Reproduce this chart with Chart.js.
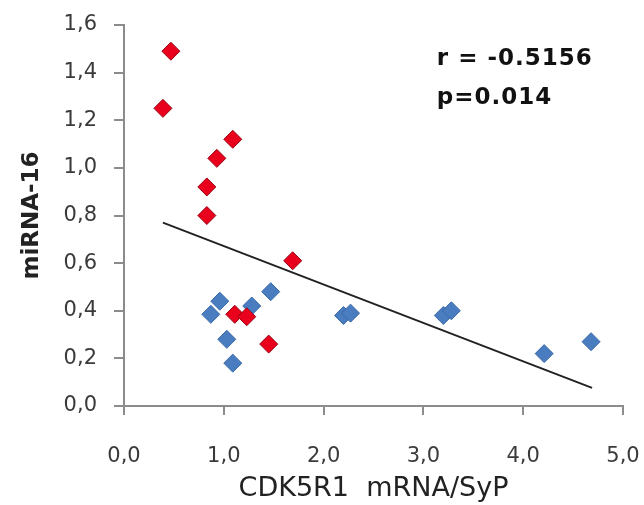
<!DOCTYPE html>
<html>
<head>
<meta charset="utf-8">
<script src="https://cdn.jsdelivr.net/npm/chart.js@4"></script>
<style>
  html, body { margin: 0; padding: 0; background: #fff; }
  #wrap { width: 644px; height: 505px; }
</style>
</head>
<body>
<div id="wrap"><canvas id="scatterChart" width="644" height="505"></canvas></div>
<script>
// Données
const redX = [0.47, 0.39, 1.09, 0.93, 0.83, 0.83, 1.69, 1.11, 1.23, 1.45];
const redY = [1.49, 1.25, 1.12, 1.04, 0.92, 0.80, 0.61, 0.385, 0.375, 0.26];

const blueX = [0.96, 0.87, 1.28, 1.47, 1.03, 1.09, 2.20, 2.27, 3.20, 3.28, 4.21, 4.68];
const blueY = [0.44, 0.385, 0.42, 0.48, 0.28, 0.18, 0.38, 0.39, 0.38, 0.40, 0.22, 0.27];

// droite de régression (extrémités)
const trendX = [0.39, 4.69];
const trendY = [0.77, 0.076];

const xTicks = [0, 1, 2, 3, 4, 5];
const yTicks = [0, 0.2, 0.4, 0.6, 0.8, 1.0, 1.2, 1.4, 1.6];

const statsLines = ['r = -0.5156', 'p=0.014'];

const colors = {
    red: '#e8001c',
    redBorder: '#9a0012',
    blue: '#4a7dc0',
    blueBorder: '#3a69a8',
    axis: '#8c8c8c',
    text: '#3a3a3a'
};

function toPoints(xs, ys) {
    return xs.map((x, i) => ({ x: x, y: ys[i] }));
}

function fmt(v) {
    return v.toFixed(1).replace('.', ',');
}

// texte r / p dans le coin haut droit
const statsText = {
    id: 'statsText',
    afterDraw(chart) {
        const { ctx, chartArea } = chart;
        ctx.save();
        ctx.fillStyle = '#111';
        ctx.font = 'bold 23px "DejaVu Sans", sans-serif';
        ctx.letterSpacing = '1px';
        ctx.textAlign = 'left';
        ctx.textBaseline = 'middle';
        const x0 = chartArea.left + chartArea.width * 0.627;
        const y0 = chartArea.top + chartArea.height * 0.089;
        statsLines.forEach((line, i) => {
            ctx.fillText(line, x0, y0 + i * 39);
        });
        ctx.restore();
    }
};

const ctx = document.getElementById('scatterChart');

new Chart(ctx, {
    type: 'scatter',
    data: {
        datasets: [
            {
                label: 'trend',
                type: 'line',
                data: toPoints(trendX, trendY),
                borderColor: '#222',
                borderWidth: 2,
                pointRadius: 0,
                fill: false,
                order: 3
            },
            {
                label: 'blue',
                data: toPoints(blueX, blueY),
                pointStyle: 'rectRot',
                pointRadius: 9,
                backgroundColor: colors.blue,
                borderColor: colors.blueBorder,
                borderWidth: 1,
                order: 2
            },
            {
                label: 'red',
                data: toPoints(redX, redY),
                pointStyle: 'rectRot',
                pointRadius: 9,
                backgroundColor: colors.red,
                borderColor: colors.redBorder,
                borderWidth: 1,
                order: 1
            }
        ]
    },
    options: {
        responsive: false,
        animation: false,
        layout: { padding: { top: 25, right: 21, left: 0, bottom: 0 } },
        plugins: {
            legend: { display: false },
            tooltip: { enabled: false }
        },
        scales: {
            x: {
                type: 'linear',
                min: 0,
                max: 5,
                afterBuildTicks(axis) {
                    axis.ticks = xTicks.map(v => ({ value: v }));
                },
                afterFit(axis) {
                    axis.height = 99;
                    axis.paddingLeft = 0;
                    axis.paddingRight = 0;
                },
                grid: {
                    drawOnChartArea: false,
                    drawTicks: true,
                    tickLength: 9,
                    color: colors.axis,
                    lineWidth: 2
                },
                border: { color: colors.axis, width: 2 },
                ticks: {
                    padding: 29,
                    color: colors.text,
                    font: { family: '"DejaVu Sans", sans-serif', size: 21 },
                    callback: v => fmt(v)
                },
                title: {
                    display: true,
                    text: 'CDK5R1  mRNA/SyP',
                    color: '#222',
                    font: { family: '"DejaVu Sans", sans-serif', size: 27 },
                    padding: { top: 0, bottom: 0 }
                }
            },
            y: {
                type: 'linear',
                min: 0,
                max: 1.6,
                afterBuildTicks(axis) {
                    axis.ticks = yTicks.map(v => ({ value: v }));
                },
                afterFit(axis) {
                    axis.width = 124;
                    axis.paddingTop = 0;
                    axis.paddingBottom = 0;
                },
                grid: {
                    drawOnChartArea: false,
                    drawTicks: true,
                    tickLength: 10,
                    color: colors.axis,
                    lineWidth: 2
                },
                border: { color: colors.axis, width: 2 },
                ticks: {
                    padding: 17,
                    color: colors.text,
                    font: { family: '"DejaVu Sans", sans-serif', size: 21 },
                    callback: v => fmt(v)
                },
                title: {
                    display: true,
                    text: 'miRNA-16',
                    color: '#222',
                    font: { family: '"DejaVu Sans", sans-serif', size: 23, weight: 'bold' },
                    padding: { top: 18, bottom: 0 }
                }
            }
        }
    },
    plugins: [statsText]
});
</script>
</body>
</html>
